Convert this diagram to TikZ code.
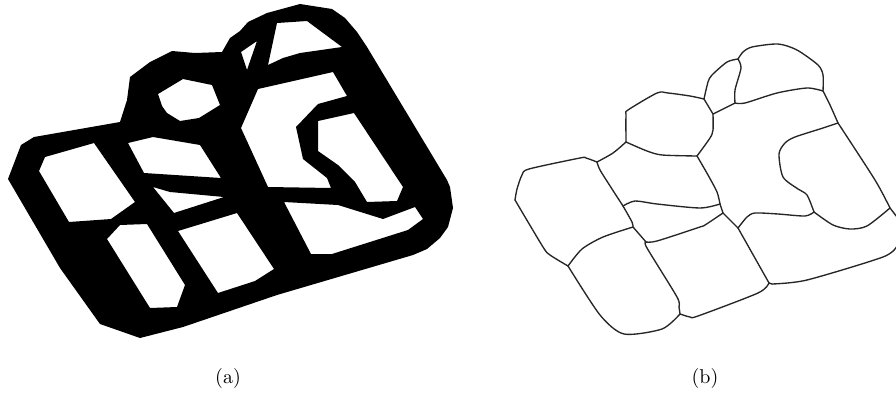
\documentclass[tikz,border=0pt]{standalone}
\tikzset{
  blob/.style={fill=black,even odd rule,draw=none},
  edgeline/.style={draw=black!85,line width=1.35pt,line join=round,line cap=round},
  caplabel/.style={inner sep=0pt,scale=2}
}
\newcommand{\edgeplot}[1]{\draw[edgeline] plot[smooth,tension=.45] coordinates {#1};}
\begin{document}
\begin{tikzpicture}[x=1pt,y=-1pt]
\useasboundingbox (0,0) rectangle (896,394);
\clip (0,0) rectangle (896,394);
% (a) black mask with white holes
\path[blob]
 (8,179) -- (21,145) -- (34,137) -- (120,122) -- (127,100) -- (130,77) -- (150,62) -- (172,51) -- (195,53) -- (222,52)
 -- (230,38) -- (240,31) -- (248,22) -- (267,13) -- (300,4) -- (332,9) -- (345,18) -- (357,32) -- (367,47)
 -- (447,180) -- (450,187) -- (453,208) -- (448,227) -- (440,238) -- (427,249) -- (413,255) -- (277,295)
 -- (183,327) -- (140,338) -- (100,324) -- (60,268) -- cycle
 % octagon
 (158,94) -- (183,79) -- (212,85) -- (220,105) -- (199,118) -- (180,121) -- (167,113) -- (162,106) -- cycle
 % left
 (94,143) -- (135,202) -- (111,219) -- (69,222) -- (39,171) -- (45,157) -- cycle
 % middle top
 (128,143) -- (153,137) -- (200,145) -- (221,178) -- (144,173) -- cycle
 % middle second
 (153,187) -- (170,192) -- (224,197) -- (174,213) -- cycle
 % lower middle
 (178,231) -- (237,213) -- (274,269) -- (255,281) -- (218,293) -- cycle
 % long
 (120,225) -- (147,224) -- (185,285) -- (177,307) -- (150,308) -- (107,239) -- cycle
 % large notched
 (258,89) -- (333,72) -- (347,96) -- (318,104) -- (296,127) -- (303,159) -- (327,178) -- (331,188) -- (268,187) -- (241,128) -- cycle
 % inner
 (318,121) -- (354,113) -- (403,187) -- (397,201) -- (367,202) -- (355,182) -- (338,165) -- (318,151) -- cycle
 % bottom right
 (284,202) -- (338,205) -- (383,219) -- (415,207) -- (423,219) -- (408,230) -- (332,254) -- (311,254) -- cycle
 % top
 (277,23) -- (307,21) -- (342,47) -- (300,53) -- (283,58) -- (268,65) -- cycle
 % small triangle
 (257,41) -- (241,52) -- (247,70) -- cycle;
% (b) boundaries
\edgeplot{(597,162) (586,158) (580,158) (529,169) (522,175) (517,189) (515,200)}
\edgeplot{(515,200) (543,247) (550,255) (568,266)}
\edgeplot{(597,162) (613,153) (626,142)}
\edgeplot{(626,142) (626,115) (628,110) (657,93) (668,93) (690,96) (704,99)}
\edgeplot{(626,142) (647,151) (662,155) (697,156)}
\edgeplot{(704,99) (708,82) (712,75) (727,62) (738,59)}
\edgeplot{(704,99) (713,114)}
\edgeplot{(713,114) (735,103)}
\edgeplot{(738,59) (741,68) (735,90) (735,103)}
\edgeplot{(738,59) (743,52) (752,47) (778,44) (797,50) (818,65) (823,75) (823,91)}
\edgeplot{(735,103) (745,103) (777,93) (807,88) (823,91)}
\edgeplot{(823,91) (830,105) (838,123)}
\edgeplot{(838,123) (875,180) (890,208)}
\edgeplot{(838,123) (823,128) (795,137) (785,143) (779,154) (783,177) (798,189) (807,195) (814,212)}
\edgeplot{(814,212) (805,216) (778,214) (755,213) (747,217) (738,228)}
\edgeplot{(814,212) (833,225) (850,229) (867,226) (890,208)}
\edgeplot{(890,208) (897,217)}
\edgeplot{(897,246) (883,257) (807,280) (772,284)}
\edgeplot{(738,228) (769,283)}
\edgeplot{(769,283) (772,284)}
\edgeplot{(769,283) (758,293) (698,316) (690,317) (680,314)}
\edgeplot{(680,314) (662,329) (624,334) (600,315) (568,266)}
\edgeplot{(568,266) (582,249) (603,237) (633,227)}
\edgeplot{(633,227) (646,242)}
\edgeplot{(646,242) (647,248) (677,297) (679,307) (680,314)}
\edgeplot{(646,242) (657,241) (700,227) (705,225) (723,213)}
\edgeplot{(633,227) (632,222) (623,206)}
\edgeplot{(623,206) (612,189) (600,170) (597,162)}
\edgeplot{(623,206) (635,201) (657,204) (700,208) (720,204)}
\edgeplot{(720,204) (723,213)}
\edgeplot{(723,213) (738,228)}
\edgeplot{(720,204) (717,192) (708,175) (697,156)}
\edgeplot{(697,156) (710,138) (713,130) (713,114)}
% captions
\node[caplabel] (capa) at (228,378) {(a)};
\node[caplabel] (capb) at (705,378) {(b)};
\end{tikzpicture}
\end{document}
